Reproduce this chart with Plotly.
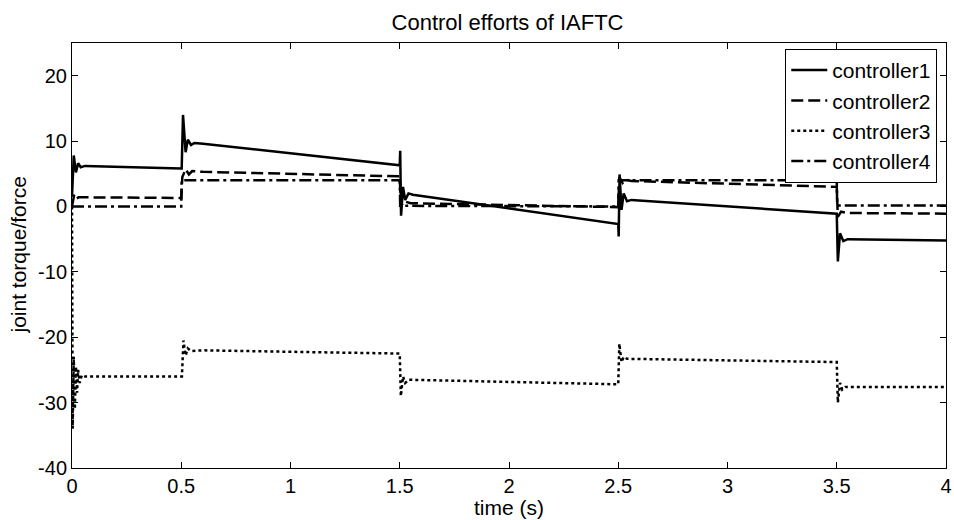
import plotly.graph_objects as go

# ---- data ----
t1 = [0, 0.008, 0.018, 0.028, 0.04, 0.06, 0.5, 0.502, 0.508, 0.52, 0.53, 0.545, 0.56, 0.6, 1.5,
      1.502, 1.506, 1.515, 1.525, 1.54, 1.56, 2.5, 2.502, 2.506, 2.515, 2.525, 2.54, 2.56, 3.5,
      3.505, 3.515, 3.53, 3.55, 4.0]
c1 = [1.5, 7.8, 5.2, 6.6, 6.0, 6.2, 5.8, 5.8, 14.0, 8.3, 10.2, 9.4, 9.7, 9.6, 6.3,
      8.5, -1.4, 3.0, 1.0, 2.0, 1.8, -2.7, -4.6, 4.9, -0.5, 2.0, 0.8, 1.0, -1.1,
      -8.4, -4.1, -5.3, -5.0, -5.2]

t2 = [0, 0.01, 0.02, 0.03, 0.5, 0.505, 0.52, 0.535, 0.55, 0.6, 1.5, 1.505, 1.52, 1.55, 2.5,
      2.505, 2.52, 2.535, 2.56, 3.5, 3.505, 3.52, 3.55, 4.0]
c2 = [0, 1.8, 1.2, 1.4, 1.3, 4.5, 5.7, 4.9, 5.4, 5.3, 4.6, 0.0, 0.8, 0.5, -0.1,
      4.5, 3.6, 4.1, 3.9, 3.0, -1.6, -0.8, -1.0, -1.1]

t3 = [0, 0.003, 0.008, 0.013, 0.018, 0.023, 0.028, 0.035, 0.045, 0.06, 0.5, 0.503, 0.51, 0.52,
      0.53, 0.545, 0.6, 1.5, 1.505, 1.515, 1.525, 1.54, 2.5, 2.505, 2.515, 2.525, 2.54, 3.5,
      3.505, 3.515, 3.525, 3.54, 4.0]
c3 = [0, -34, -23, -31, -24.5, -28.5, -25, -27, -25.8, -26, -26, -26, -20.5, -22.8,
      -21.7, -22.1, -22, -22.5, -29, -26, -27, -26.5, -27.2, -21, -23.8, -23, -23.3, -23.8,
      -30, -27, -28, -27.6, -27.6]

t4 = [0, 0.5, 0.502, 1.5, 1.502, 2.5, 2.502, 3.5, 3.502, 4.0]
c4 = [0, 0, 4.0, 4.0, 0.1, 0.0, 4.0, 4.0, 0.15, 0.15]

x_ticks = [0, 0.5, 1, 1.5, 2, 2.5, 3, 3.5, 4]
x_tick_labels = ["0", "0.5", "1", "1.5", "2", "2.5", "3", "3.5", "4"]
y_ticks = [-40, -30, -20, -10, 0, 10, 20]
y_tick_labels = ["-40", "-30", "-20", "-10", "0", "10", "20"]

series = [
    ("controller1", t1, c1, "solid"),
    ("controller2", t2, c2, "12px,5px"),
    ("controller3", t3, c3, "3px,3px"),
    ("controller4", t4, c4, "12px,4px,3px,4px"),
]

FONT = "Liberation Sans, Arial, sans-serif"
FS = 21
TFS = 20

fig = go.Figure()
for name, t, v, dash in series:
    fig.add_trace(go.Scatter(x=t, y=v, mode="lines", name=name,
                             line=dict(color="black", width=2.5, dash=dash)))

axis_common = dict(showline=True, linecolor="black", linewidth=1, mirror="ticks",
                   ticks="inside", ticklen=6, tickcolor="black", showgrid=False,
                   zeroline=False, automargin=False, ticklabeloverflow="allow",
                   tickfont=dict(size=TFS, color="black", family=FONT))

fig.update_layout(
    width=954, height=520,
    margin=dict(l=72, r=8, t=43, b=52),
    paper_bgcolor="white", plot_bgcolor="white",
    font=dict(family=FONT, color="black", size=FS),
    title=dict(text="Control efforts of IAFTC", x=0.532, xanchor="center", y=1 - 22 / 520,
               yanchor="middle", font=dict(size=22, family=FONT, color="black")),
    xaxis=dict(range=[0, 4], tickvals=x_ticks, ticktext=x_tick_labels, **axis_common),
    yaxis=dict(range=[-40, 25], tickvals=y_ticks, ticktext=y_tick_labels, **axis_common),
    legend=dict(x=0.99, xanchor="right", y=0.986, yanchor="top", bgcolor="white",
                bordercolor="black", borderwidth=1, font=dict(size=FS, family=FONT),
                tracegroupgap=0, itemwidth=36),
    showlegend=True,
    annotations=[
        dict(text="time (s)", xref="paper", yref="paper", x=0.5, y=-(520 - 468) / 425,
             xanchor="center", yanchor="bottom", showarrow=False, borderpad=0,
             font=dict(size=FS, family=FONT, color="black")),
        dict(text="joint torque/force", xref="paper", yref="paper", x=(18 - 72) / 874, y=0.5,
             xanchor="center", yanchor="middle", textangle=-90, showarrow=False,
             font=dict(size=FS, family=FONT, color="black")),
    ],
)

fig.write_html("out.html", config={"displayModeBar": False},
               post_script="document.body.style.margin='0';document.body.style.overflow='hidden';")
